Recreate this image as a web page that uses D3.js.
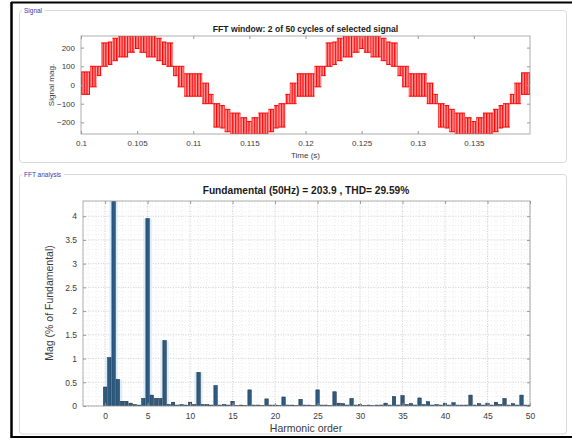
<!DOCTYPE html>
<html><head><meta charset="utf-8">
<script src="https://cdn.jsdelivr.net/npm/d3@7"></script>
<style>
html,body{margin:0;padding:0;background:#fff;}
svg{display:block;font-family:"Liberation Sans",Arial,sans-serif;}
</style></head>
<body><svg id="c" width="572" height="439"></svg>
<script>
// ---------- Data ----------
// Signal: PWM bands [tStart, tEnd, low level, high level]
const signalBands = [
 [0.1000,0.1008,-50,70],[0.1008,0.1014,-10,100],[0.1014,0.1018,50,100],[0.1018,0.1024,100,225],
 [0.1024,0.1028,110,230],[0.1028,0.1033,130,250],[0.1033,0.1042,150,262],[0.1042,0.1048,175,262],
 [0.1048,0.1052,195,262],[0.1052,0.1058,175,262],[0.1058,0.1067,150,262],[0.1067,0.1072,130,250],
 [0.1072,0.1076,110,230],[0.1076,0.1082,100,225],[0.1082,0.1086,50,100],[0.1086,0.1092,-10,100],
 [0.1092,0.1108,-60,60],[0.1108,0.1114,-100,10],[0.1114,0.1118,-100,-50],[0.1118,0.1124,-225,-100],
 [0.1124,0.1128,-230,-110],[0.1128,0.1133,-250,-130],[0.1133,0.1142,-262,-150],[0.1142,0.1148,-262,-175],
 [0.1148,0.1152,-262,-195],[0.1152,0.1158,-262,-175],[0.1158,0.1167,-262,-150],[0.1167,0.1172,-250,-130],
 [0.1172,0.1176,-230,-110],[0.1176,0.1182,-225,-100],[0.1182,0.1186,-100,-50],[0.1186,0.1192,-100,10],
 [0.1192,0.1208,-60,60],[0.1208,0.1214,-10,100],[0.1214,0.1218,50,100],[0.1218,0.1224,100,225],
 [0.1224,0.1228,110,230],[0.1228,0.1233,130,250],[0.1233,0.1242,150,262],[0.1242,0.1248,175,262],
 [0.1248,0.1252,195,262],[0.1252,0.1258,175,262],[0.1258,0.1267,150,262],[0.1267,0.1272,130,250],
 [0.1272,0.1276,110,230],[0.1276,0.1282,100,225],[0.1282,0.1286,50,100],[0.1286,0.1292,-10,100],
 [0.1292,0.1308,-60,60],[0.1308,0.1314,-100,10],[0.1314,0.1318,-100,-50],[0.1318,0.1324,-225,-100],
 [0.1324,0.1328,-230,-110],[0.1328,0.1333,-250,-130],[0.1333,0.1342,-262,-150],[0.1342,0.1348,-262,-175],
 [0.1348,0.1352,-262,-195],[0.1352,0.1358,-262,-175],[0.1358,0.1367,-262,-150],[0.1367,0.1372,-250,-130],
 [0.1372,0.1376,-230,-110],[0.1376,0.1382,-225,-100],[0.1382,0.1386,-100,-50],[0.1386,0.1392,-100,10],
 [0.1392,0.1400,-50,65]
];
const signalXTicks = [0.1,0.105,0.11,0.115,0.12,0.125,0.13,0.135];
const signalYTicks = [-200,-100,0,100,200];

// FFT: harmonic orders (25 Hz resolution) and magnitudes (% of fundamental)
const harmonicOrders = [0,0.5,1,1.5,2,2.5,3,3.5,4,4.5,5,5.5,6,6.5,7,7.5,8,8.5,9,9.5,10,10.5,11,11.5,12,12.5,13,13.5,14,14.5,15,15.5,16,16.5,17,17.5,18,18.5,19,19.5,20,20.5,21,21.5,22,22.5,23,23.5,24,24.5,25,25.5,26,26.5,27,27.5,28,28.5,29,29.5,30,30.5,31,31.5,32,32.5,33,33.5,34,34.5,35,35.5,36,36.5,37,37.5,38,38.5,39,39.5,40,40.5,41,41.5,42,42.5,43,43.5,44,44.5,45,45.5,46,46.5,47,47.5,48,48.5,49,49.5,50];
const harmonicMags = [0.40,1.02,100,0.56,0.10,0.10,0.06,0.03,0.02,0.16,3.95,0.23,0.16,0.16,1.38,0.03,0.08,0.02,0.03,0.02,0.08,0.03,0.71,0.03,0.03,0.02,0.43,0.02,0.03,0.02,0.10,0.01,0.02,0.01,0.34,0.02,0.02,0.01,0.15,0.02,0.02,0.01,0.19,0.02,0.02,0.01,0.14,0.02,0.02,0.01,0.34,0.02,0.02,0.01,0.30,0.06,0.05,0.02,0.16,0.02,0.03,0.01,0.02,0.01,0.02,0.02,0.06,0.02,0.20,0.02,0.22,0.03,0.05,0.02,0.17,0.03,0.09,0.02,0.03,0.02,0.06,0.02,0.07,0.02,0.02,0.02,0.23,0.02,0.05,0.02,0.06,0.02,0.08,0.03,0.16,0.02,0.05,0.02,0.23,0.02,0.02];
const fftXTicks = [0,5,10,15,20,25,30,35,40,45,50];
const fftYTicks = [0,0.5,1,1.5,2,2.5,3,3.5,4];

// ---------- Drawing ----------
const svg = d3.select("#c");
const defs = svg.append("defs");
const pat = defs.append("pattern").attr("id","pwm").attr("patternUnits","userSpaceOnUse")
  .attr("width",2.7).attr("height",10);
pat.append("rect").attr("width",2.7).attr("height",10).attr("fill","#ffa3a3");
pat.append("rect").attr("width",1.3).attr("height",10).attr("fill","#ff0000");
defs.append("clipPath").attr("id","clipTop").append("rect").attr("x",81).attr("y",36).attr("width",449).attr("height",98);
defs.append("clipPath").attr("id","clipBot").append("rect").attr("x",83).attr("y",201).attr("width",447).attr("height",205);

// outer frame
svg.append("line").attr("x1",11).attr("x2",572).attr("y1",2.5).attr("y2",2.5).attr("stroke","#000").attr("stroke-width",2);
svg.append("line").attr("x1",11.5).attr("x2",11.5).attr("y1",2).attr("y2",438).attr("stroke","#000").attr("stroke-width",2.5);
svg.append("line").attr("x1",11).attr("x2",572).attr("y1",437).attr("y2",437).attr("stroke","#000").attr("stroke-width",2);

// panels
function panel(y0,y1,label){
  svg.append("rect").attr("x",19.5).attr("y",y0).attr("width",547).attr("height",y1-y0)
    .attr("rx",3).attr("fill","#fff").attr("stroke","#d9d9d9");
  const t = svg.append("text").attr("x",24).attr("y",y0+2.5).attr("font-size",6.5)
    .attr("fill","#3b3bb0").text(label);
  const bb = t.node().getBBox();
  svg.insert("rect", "text:last-of-type").attr("x",bb.x-2).attr("y",y0-2).attr("width",bb.width+4).attr("height",4).attr("fill","#fff");
  t.raise();
}
panel(10.5,162.5,"Signal");
panel(174.5,434,"FFT analysis");

// ---- top signal plot ----
const xs = d3.scaleLinear().domain([0.1,0.14]).range([81,530]);
const ys = d3.scaleLinear().domain([-262,262]).range([134,36]);
svg.append("rect").attr("x",81).attr("y",36).attr("width",449).attr("height",98).attr("fill","#fff");
const gs = svg.append("g").attr("clip-path","url(#clipTop)");
gs.selectAll("rect.band").data(signalBands).join("rect").attr("class","band")
  .attr("x",d=>xs(d[0])).attr("width",d=>xs(d[1])-xs(d[0]))
  .attr("y",d=>ys(d[3])).attr("height",d=>ys(d[2])-ys(d[3]))
  .attr("fill","url(#pwm)");
gs.selectAll("path.edge").data(signalBands).join("path").attr("class","edge")
  .attr("d",d=>`M${xs(d[0])},${ys(d[3])}H${xs(d[1])}M${xs(d[0])},${ys(d[2])}H${xs(d[1])}`)
  .attr("stroke","#ff0000").attr("stroke-width",1).attr("fill","none");

function styleAxis(g,fs){
  g.selectAll("path.domain").remove();
  g.selectAll("line").attr("stroke","#9a9a9a");
  g.selectAll("text").attr("font-size",fs).attr("fill","#3a3a3a").attr("font-family","Liberation Sans, Arial, sans-serif");
}
let g;
g = svg.append("g").attr("transform","translate(0,134)").call(d3.axisBottom(xs).tickValues(signalXTicks).tickSize(-3).tickPadding(6).tickFormat(d3.format("")));
styleAxis(g,8);
g = svg.append("g").attr("transform","translate(0,36)").call(d3.axisTop(xs).tickValues(signalXTicks).tickSize(-3).tickFormat(""));
styleAxis(g,8);
g = svg.append("g").attr("transform","translate(81,0)").call(d3.axisLeft(ys).tickValues(signalYTicks).tickSize(-3).tickPadding(6));
styleAxis(g,8);
g = svg.append("g").attr("transform","translate(530,0)").call(d3.axisRight(ys).tickValues(signalYTicks).tickSize(-3).tickFormat(""));
styleAxis(g,8);
svg.append("rect").attr("x",81).attr("y",36).attr("width",449).attr("height",98).attr("fill","none").attr("stroke","#9a9a9a").attr("stroke-width",0.8);
svg.append("text").attr("x",305.5).attr("y",32).attr("text-anchor","middle").attr("font-size",8.6).attr("font-weight","bold").attr("fill","#1a1a1a")
  .text("FFT window: 2 of 50 cycles of selected signal");
svg.append("text").attr("x",305.5).attr("y",158).attr("text-anchor","middle").attr("font-size",8).attr("fill","#3a3a3a").text("Time (s)");
svg.append("text").attr("transform","translate(54,85) rotate(-90)").attr("text-anchor","middle").attr("font-size",8).attr("fill","#3a3a3a").text("Signal mag.");

// ---- bottom FFT plot ----
const xb = d3.scaleLinear().domain([-2.6,50]).range([83,530]);
const yb = d3.scaleLinear().domain([0,4.32]).range([406,201]);
svg.append("rect").attr("x",83).attr("y",201).attr("width",447).attr("height",205).attr("fill","#fff");
const gg = svg.append("g");
// minor grid
gg.selectAll("line.mvx").data(d3.range(-2,51,1)).join("line")
  .attr("x1",d=>xb(d)).attr("x2",d=>xb(d)).attr("y1",201).attr("y2",406)
  .attr("stroke","#e2e2e2").attr("stroke-width",0.6).attr("stroke-dasharray","1,2");
gg.selectAll("line.mhy").data(d3.range(0.1,4.32,0.1)).join("line")
  .attr("x1",83).attr("x2",530).attr("y1",d=>yb(d)).attr("y2",d=>yb(d))
  .attr("stroke","#e2e2e2").attr("stroke-width",0.6).attr("stroke-dasharray","1,2");
// major grid
gg.selectAll("line.gx").data(fftXTicks).join("line")
  .attr("x1",d=>xb(d)).attr("x2",d=>xb(d)).attr("y1",201).attr("y2",406)
  .attr("stroke","#c4c4c4").attr("stroke-width",0.7).attr("stroke-dasharray","1,1.5");
gg.selectAll("line.gy").data(fftYTicks).join("line")
  .attr("x1",83).attr("x2",530).attr("y1",d=>yb(d)).attr("y2",d=>yb(d))
  .attr("stroke","#c4c4c4").attr("stroke-width",0.7).attr("stroke-dasharray","1,1.5");

const fftData = harmonicOrders.map((h,i)=>({h, m:harmonicMags[i]}));
const bw = xb(0.4)-xb(0);
const gb = svg.append("g").attr("clip-path","url(#clipBot)");
gb.selectAll("rect.halo").data(fftData.filter(d=>d.m>0.5)).join("rect").attr("class","halo")
  .attr("x",d=>xb(d.h)-bw/2-2.5).attr("width",bw+5)
  .attr("y",d=>yb(d.m)).attr("height",d=>yb(0)-yb(d.m))
  .attr("fill","#d3e9f8").attr("opacity",0.8);
gb.selectAll("rect.bar").data(fftData).join("rect").attr("class","bar")
  .attr("x",d=>xb(d.h)-bw/2).attr("width",bw)
  .attr("y",d=>yb(d.m)).attr("height",d=>Math.max(0.6,yb(0)-yb(d.m)))
  .attr("fill","#2d5b82").attr("stroke","#16283a").attr("stroke-width",0.5);

g = svg.append("g").attr("transform","translate(0,406)").call(d3.axisBottom(xb).tickValues(fftXTicks).tickSize(-3).tickPadding(7));
styleAxis(g,8.5);
g = svg.append("g").attr("transform","translate(0,201)").call(d3.axisTop(xb).tickValues(fftXTicks).tickSize(-3).tickFormat(""));
styleAxis(g,8.5);
g = svg.append("g").attr("transform","translate(83,0)").call(d3.axisLeft(yb).tickValues(fftYTicks).tickSize(-3).tickPadding(6).tickFormat(d3.format("")));
styleAxis(g,8.5);
g = svg.append("g").attr("transform","translate(530,0)").call(d3.axisRight(yb).tickValues(fftYTicks).tickSize(-3).tickFormat(""));
styleAxis(g,8.5);
svg.append("rect").attr("x",83).attr("y",201).attr("width",447).attr("height",205).attr("fill","none").attr("stroke","#9a9a9a").attr("stroke-width",0.8);

svg.append("text").attr("x",306).attr("y",194).attr("text-anchor","middle").attr("font-size",10.2).attr("font-weight","bold").attr("fill","#1a1a1a")
  .text("Fundamental (50Hz) = 203.9 , THD= 29.59%");
svg.append("text").attr("x",306).attr("y",432).attr("text-anchor","middle").attr("font-size",10.5).attr("fill","#3a3a3a").text("Harmonic order");
svg.append("text").attr("transform","translate(53,303) rotate(-90)").attr("text-anchor","middle").attr("font-size",10.5).attr("fill","#3a3a3a").text("Mag (% of Fundamental)");
</script></body></html>
